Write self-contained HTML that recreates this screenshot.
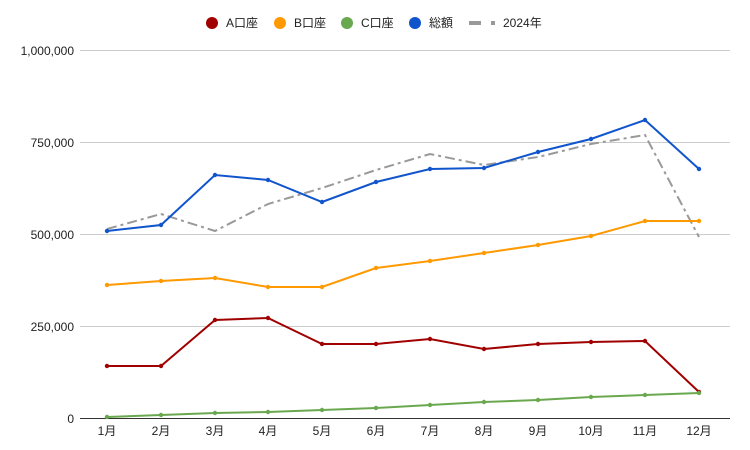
<!DOCTYPE html><html><head><meta charset="utf-8"><style>body{margin:0;background:#fff}svg{display:block;font-family:"Liberation Sans","Noto Sans CJK JP",sans-serif}</style></head><body>
<svg width="750" height="450" xmlns="http://www.w3.org/2000/svg">
<defs><marker id="m1" markerWidth="6" markerHeight="6" refX="3" refY="3" markerUnits="userSpaceOnUse"><circle cx="3" cy="3" r="2.2" fill="#a00000"/></marker>
<marker id="m2" markerWidth="6" markerHeight="6" refX="3" refY="3" markerUnits="userSpaceOnUse"><circle cx="3" cy="3" r="2.2" fill="#ff9900"/></marker>
<marker id="m3" markerWidth="6" markerHeight="6" refX="3" refY="3" markerUnits="userSpaceOnUse"><circle cx="3" cy="3" r="2.2" fill="#6aa84f"/></marker>
<marker id="m4" markerWidth="6" markerHeight="6" refX="3" refY="3" markerUnits="userSpaceOnUse"><circle cx="3" cy="3" r="2.2" fill="#1155cc"/></marker></defs>
<g stroke="#ccc" stroke-width="1"><line x1="80" y1="50.5" x2="730" y2="50.5"/><line x1="80" y1="142.5" x2="730" y2="142.5"/><line x1="80" y1="234.5" x2="730" y2="234.5"/><line x1="80" y1="326.5" x2="730" y2="326.5"/></g>
<line x1="80" y1="418.5" x2="730" y2="418.5" stroke="#333"/>
<g font-size="12" fill="#222" text-anchor="end"><text x="74" y="55">1,000,000</text><text x="74" y="147">750,000</text><text x="74" y="239">500,000</text><text x="74" y="331">250,000</text><text x="74" y="423">0</text></g>
<g font-size="12" fill="#222" text-anchor="middle"><text x="107" y="435">1月</text><text x="161" y="435">2月</text><text x="215" y="435">3月</text><text x="268" y="435">4月</text><text x="322" y="435">5月</text><text x="376" y="435">6月</text><text x="430" y="435">7月</text><text x="484" y="435">8月</text><text x="538" y="435">9月</text><text x="591" y="435">10月</text><text x="645" y="435">11月</text><text x="699" y="435">12月</text></g>
<polyline fill="none" stroke="#999" stroke-width="2" stroke-dasharray="10,4,3,4" points="107,229 161,214 215,231 268,204 322,188 376,170 430,154 484,165 538,157 591,144 645,135 699,237"/>
<g stroke-width="2" fill="none">
<polyline stroke="#a00000" marker-start="url(#m1)" marker-mid="url(#m1)" marker-end="url(#m1)" points="107,366 161,366 215,320 268,318 322,344 376,344 430,339 484,349 538,344 591,342 645,341 699,392"/>
<polyline stroke="#ff9900" marker-start="url(#m2)" marker-mid="url(#m2)" marker-end="url(#m2)" points="107,285 161,281 215,278 268,287 322,287 376,268 430,261 484,253 538,245 591,236 645,221 699,221"/>
<polyline stroke="#6aa84f" marker-start="url(#m3)" marker-mid="url(#m3)" marker-end="url(#m3)" points="107,417 161,415 215,413 268,412 322,410 376,408 430,405 484,402 538,400 591,397 645,395 699,393"/>
<polyline stroke="#1155cc" marker-start="url(#m4)" marker-mid="url(#m4)" marker-end="url(#m4)" points="107,231 161,225 215,175 268,180 322,202 376,182 430,169 484,168 538,152 591,139 645,120 699,169"/>
</g>
<g font-size="12" fill="#222">
<circle cx="212" cy="23" r="6" fill="#a00000"/><text x="226" y="27">A口座</text>
<circle cx="280" cy="23" r="6" fill="#ff9900"/><text x="294" y="27">B口座</text>
<circle cx="347" cy="23" r="6" fill="#6aa84f"/><text x="361" y="27">C口座</text>
<circle cx="415" cy="23" r="6" fill="#1155cc"/><text x="429" y="27">総額</text>
<rect x="469" y="21" width="12" height="4" fill="#999"/><rect x="491" y="21" width="4" height="4" fill="#999"/><text x="503" y="27">2024年</text>
</g>
</svg></body></html>
